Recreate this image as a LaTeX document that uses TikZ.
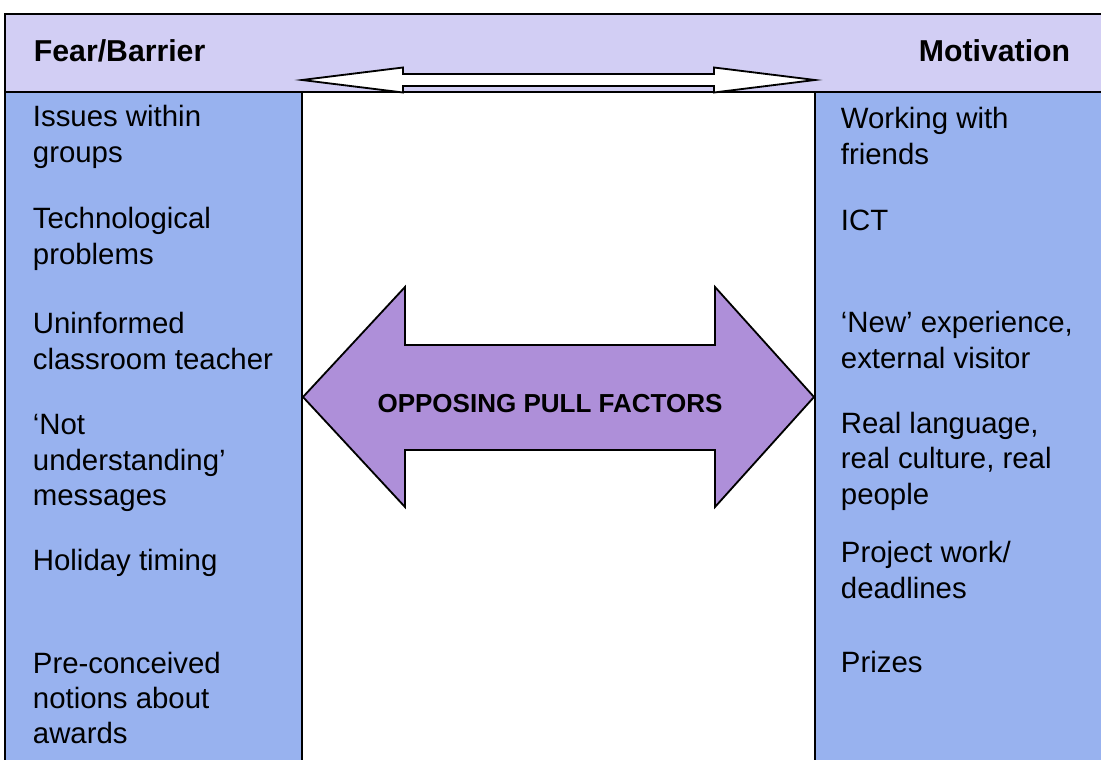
\documentclass[tikz,border=0pt]{standalone}
\usepackage{fontspec}
\setmainfont{Liberation Sans}
\definecolor{bandlilac}{RGB}{210,206,244}
\definecolor{colblue}{RGB}{152,178,239}
\definecolor{pullpurple}{RGB}{174,143,217}

\begin{document}
\begin{tikzpicture}[x=0.025cm, y=-0.025cm, line width=1.3pt,
  item/.style={anchor=west, align=left, inner sep=0pt, font=\fontsize{20.9}{25.2}\selectfont},
  head/.style={inner sep=0pt, font=\fontsize{21.5}{25}\selectfont\bfseries}]
  \useasboundingbox (0,0) rectangle (1101,760);
  % band and the two columns
  \fill[bandlilac] (5,14) rectangle (1101,92);
  \fill[colblue] (5,92) rectangle (302,760);
  \fill[colblue] (815,92) rectangle (1101,760);
  \draw (1101,14) -- (5,14) -- (5,760);
  \draw (5,92) -- (1101,92);
  \draw (302,92) -- (302,760);
  \draw (815,92) -- (815,760);
  \node[head, anchor=west] (fear) at (33,51) {Fear/Barrier};
  \node[head, anchor=east] (motiv) at (1071,51) {Motivation};
  % white arrow in the band
  \draw[fill=white] (302,80) -- (403,67.5) -- (403,74) -- (714,74) -- (714,67.5) -- (815,80)
    -- (714,92.5) -- (714,86) -- (403,86) -- (403,92.5) -- cycle;
  % opposing pull factors
  \draw[fill=pullpurple] (303,397) -- (405,287) -- (405,345) -- (715,345) -- (715,287) -- (814,397)
    -- (715,507) -- (715,450) -- (405,450) -- (405,507) -- cycle;
  \node[inner sep=0pt, font=\fontsize{18.5}{22}\selectfont\bfseries] (pull) at (550,404) {OPPOSING PULL FACTORS};
  % fears
  \node[item] (f1) at (32,137) {Issues within\\groups};
  \node[item] (f2) at (32,239) {Technological\\problems};
  \node[item] (f3) at (32,341) {Uninformed\\classroom teacher};
  \node[item] (f4) at (32,463) {`Not\\understanding'\\messages};
  \node[item] (f5) at (32,563) {Holiday timing};
  \node[item] (f6) at (32,698) {Pre-conceived\\notions about\\awards};
  % motivations
  \node[item] (m1) at (840,136) {Working with\\friends};
  \node[item] (m2) at (840,220) {ICT};
  \node[item] (m3) at (840,340) {`New' experience,\\external visitor};
  \node[item] (m4) at (840,461) {Real language,\\real culture, real\\people};
  \node[item] (m5) at (840,570) {Project work/\\deadlines};
  \node[item] (m6) at (840,662) {Prizes};
\end{tikzpicture}
\end{document}
